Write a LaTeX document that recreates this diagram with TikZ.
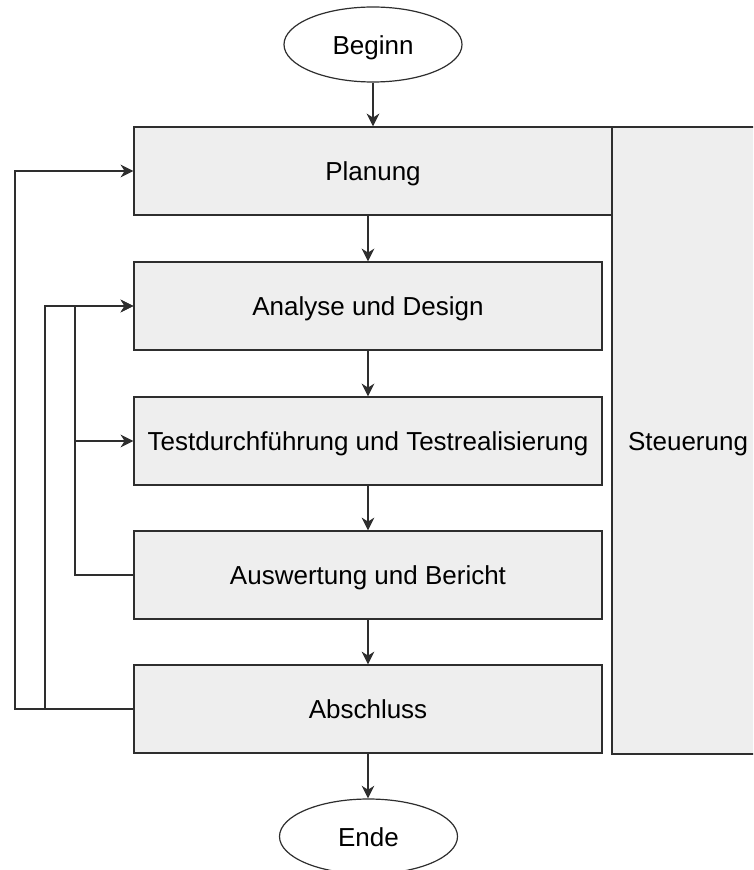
\documentclass[tikz,border=0pt]{standalone}
\usepackage{fontspec}
\setmainfont{Liberation Sans}
\usetikzlibrary{shapes.geometric,arrows.meta,calc}

\definecolor{boxfill}{HTML}{EEEEEE}
\definecolor{edge}{HTML}{2E2E2E}

\tikzset{
  label font/.style={font=\fontsize{19.5pt}{23pt}\selectfont,
    text height=16pt, text depth=1.5pt},
  stepbox/.style={draw=edge, fill=boxfill, line width=1.1pt, rectangle,
    minimum width=351pt, minimum height=66pt, inner sep=2pt, label font},
  terminal/.style={draw=edge, fill=white, line width=0.9pt, ellipse,
    minimum width=133.5pt, minimum height=56.25pt, inner sep=0pt, label font},
  arr/.style={draw=edge, line width=1.1pt,
    -{Stealth[length=9.5pt, width=9.5pt, inset=3pt]}},
}

\begin{document}
\begin{tikzpicture}[x=0.75pt, y=-0.75pt]
  \useasboundingbox (0,0) rectangle (753,870);
  \clip (0,0) rectangle (753,870);

  % control column on the right
  \node[stepbox, minimum width=114pt, minimum height=470.25pt] (steuer) at (688,440.5) {Steuerung};

  % process steps
  \node[stepbox, minimum width=358.5pt] (plan) at (373,171) {Planung};
  \node[stepbox] (analyse) at (368,306) {Analyse und Design};
  \node[stepbox] (test) at (368,441) {Testdurchführung und Testrealisierung};
  \node[stepbox] (ausw) at (368,575) {Auswertung und Bericht};
  \node[stepbox] (abschl) at (368,709) {Abschluss};

  % start and end
  \node[terminal] (beginn) at (373,44.5) {Beginn};
  \node[terminal] (ende) at (368.5,836.5) {Ende};

  % main flow
  \draw[arr] (beginn.south) -- (plan.north -| beginn.south);
  \draw[arr] (plan.south -| analyse.north) -- (analyse.north);
  \draw[arr] (analyse.south) -- (test.north);
  \draw[arr] (test.south) -- (ausw.north);
  \draw[arr] (ausw.south) -- (abschl.north);
  \draw[arr] (abschl.south) -- (ende.north -| abschl.south);

  % feedback rails on the left
  \coordinate (rail1) at (15,0);
  \coordinate (rail2) at (45,0);
  \coordinate (rail3) at (75,0);

  \draw[arr] (abschl.west) -- (abschl.west -| rail1) |- (plan.west);
  \draw[arr] (abschl.west) -- (abschl.west -| rail2) |- (analyse.west);
  \draw[arr] (ausw.west) -- (ausw.west -| rail3) |- (analyse.west);
  \draw[arr] (ausw.west) -- (ausw.west -| rail3) |- (test.west);
\end{tikzpicture}
\end{document}
